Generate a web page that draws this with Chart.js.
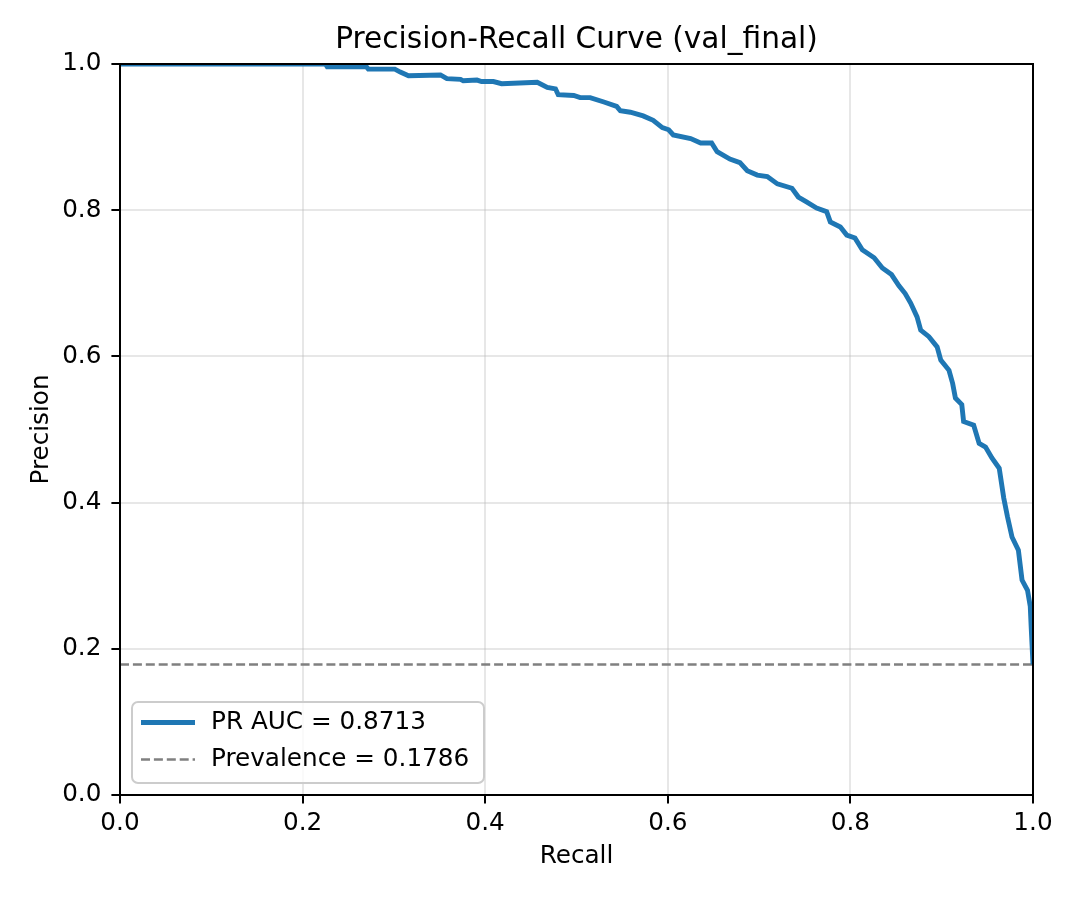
<!DOCTYPE html>
<html>
<head>
<meta charset="utf-8">
<script src="https://cdn.jsdelivr.net/npm/chart.js@4/dist/chart.umd.min.js"></script>
<style>
  html, body { margin: 0; padding: 0; background: #fff; }
  #wrap { width: 1080px; height: 900px; }
</style>
</head>
<body>
<div id="wrap"><canvas id="grafica" width="1080" height="900"></canvas></div>
<script>
// valores
const recall = [0, 0.225, 0.227, 0.270, 0.272, 0.301, 0.307, 0.316, 0.351, 0.358,
  0.373, 0.376, 0.391, 0.396, 0.409, 0.418, 0.457, 0.468, 0.477, 0.480,
  0.497, 0.504, 0.515, 0.530,
  0.544, 0.548, 0.559, 0.573, 0.584, 0.594, 0.601, 0.606, 0.625, 0.636,
  0.648, 0.654, 0.668, 0.679, 0.687, 0.698, 0.709, 0.720, 0.736, 0.743,
  0.751, 0.763, 0.774, 0.778, 0.789, 0.796, 0.805, 0.813, 0.826, 0.835,
  0.845, 0.853, 0.860, 0.866, 0.873, 0.877, 0.886, 0.895, 0.899, 0.908,
  0.912, 0.915, 0.922, 0.924, 0.935, 0.941, 0.948, 0.955, 0.963, 0.968,
  0.972, 0.977, 0.984, 0.988, 0.994, 0.997, 0.998, 1.0]
const precision = [1.0, 1.0, 0.996, 0.996, 0.993, 0.993, 0.989, 0.984, 0.985, 0.980,
  0.979, 0.977, 0.978, 0.976, 0.976, 0.973, 0.975, 0.968, 0.966, 0.958,
  0.957, 0.954, 0.954, 0.948,
  0.942, 0.936, 0.934, 0.929, 0.923, 0.913, 0.910, 0.903, 0.898, 0.892,
  0.892, 0.880, 0.870, 0.865, 0.854, 0.848, 0.846, 0.836, 0.830, 0.818,
  0.812, 0.803, 0.798, 0.784, 0.777, 0.766, 0.762, 0.746, 0.735, 0.721,
  0.712, 0.697, 0.686, 0.673, 0.654, 0.636, 0.627, 0.613, 0.595, 0.581,
  0.563, 0.543, 0.534, 0.511, 0.506, 0.481, 0.476, 0.461, 0.447, 0.406,
  0.381, 0.353, 0.335, 0.294, 0.280, 0.258, 0.230, 0.1786]
const prAuc = 0.8713
const prevalence = 0.1786
const tickValues = [0, 0.2, 0.4, 0.6, 0.8, 1.0]

const FONT = 'DejaVu Sans'
const graph = document.querySelector('#grafica')

const curvePoints = recall.map((r, i) => ({ x: r, y: precision[i] }))
const prevPoints = [{ x: 0, y: prevalence }, { x: 1, y: prevalence }]

// marco, titulo y leyenda al estilo matplotlib
const mplLook = {
  id: 'mplLook',
  afterDatasetsDraw(chart) {
    const { ctx, chartArea: a } = chart
    ctx.save()
    ctx.strokeStyle = '#000'
    ctx.lineWidth = 2
    ctx.strokeRect(a.left, a.top, a.right - a.left, a.bottom - a.top)
    ctx.restore()
  },
  afterDraw(chart) {
    const { ctx, chartArea: a } = chart
    ctx.save()
    ctx.fillStyle = '#000'
    ctx.font = '29.6px "' + FONT + '"'
    ctx.textAlign = 'center'
    ctx.textBaseline = 'alphabetic'
    ctx.fillText('Precision-Recall Curve (val_final)', (a.left + a.right) / 2, 48.3)

    // leyenda
    const bx = 132, by = 702, bw = 352, bh = 81, rad = 6
    ctx.beginPath()
    ctx.roundRect(bx, by, bw, bh, rad)
    ctx.fillStyle = 'rgba(255,255,255,0.8)'
    ctx.fill()
    ctx.strokeStyle = '#cccccc'
    ctx.lineWidth = 2
    ctx.stroke()

    const rows = [722.5, 759.5]
    chart.data.datasets.forEach((ds, i) => {
      const y = rows[i]
      ctx.beginPath()
      ctx.setLineDash(ds.borderDash || [])
      ctx.strokeStyle = ds.borderColor
      ctx.lineWidth = ds.borderWidth
      ctx.moveTo(141, y)
      ctx.lineTo(195, y)
      ctx.stroke()
      ctx.setLineDash([])
      ctx.fillStyle = '#000'
      ctx.font = '24.7px "' + FONT + '"'
      ctx.textAlign = 'left'
      ctx.textBaseline = 'middle'
      ctx.fillText(ds.label, 211, y)
    })
    ctx.restore()
  }
}

const tickFont = { family: FONT, size: 24.7 }
const gridStyle = {
  color: 'rgba(176,176,176,0.3)',
  lineWidth: 2,
  tickColor: '#000',
  tickWidth: 2,
  tickLength: 8.6
}

const config = {
  type: 'line',
  data: {
    datasets: [{
      label: 'PR AUC = ' + prAuc.toFixed(4),
      data: curvePoints,
      borderColor: '#1f77b4',
      borderWidth: 4.9,
      pointRadius: 0,
      tension: 0,
      fill: false,
      clip: 0
    },
    {
      label: 'Prevalence = ' + prevalence.toFixed(4),
      data: prevPoints,
      borderColor: '#808080',
      borderWidth: 2.5,
      borderDash: [9, 3.9],
      pointRadius: 0,
      fill: false,
      clip: 0
    }]
  },
  options: {
    responsive: false,
    animation: false,
    devicePixelRatio: 1,
    layout: { padding: { top: 64, right: 47, bottom: 0, left: 0 } },
    plugins: {
      legend: { display: false },
      tooltip: { enabled: false },
      title: { display: false }
    },
    scales: {
      x: {
        type: 'linear',
        min: 0,
        max: 1,
        afterFit: (s) => { s.height = 105 },
        afterBuildTicks: (s) => { s.ticks = tickValues.map(v => ({ value: v })) },
        ticks: {
          color: '#000',
          font: tickFont,
          padding: 5.6,
          maxRotation: 0,
          callback: (v) => Number(v).toFixed(1)
        },
        grid: gridStyle,
        border: { display: false },
        title: {
          display: true,
          text: 'Recall',
          color: '#000',
          font: tickFont,
          padding: { top: 0, bottom: 28.5 }
        }
      },
      y: {
        type: 'linear',
        min: 0,
        max: 1,
        afterFit: (s) => { s.width = 120 },
        afterBuildTicks: (s) => { s.ticks = tickValues.map(v => ({ value: v })) },
        ticks: {
          color: '#000',
          font: tickFont,
          padding: 10,
          callback: (v) => Number(v).toFixed(1)
        },
        grid: gridStyle,
        border: { display: false },
        title: {
          display: true,
          text: 'Precision',
          color: '#000',
          font: tickFont,
          padding: { top: 27, bottom: 0 }
        }
      }
    }
  },
  plugins: [mplLook]
}

new Chart(graph, config)
</script>
</body>
</html>
